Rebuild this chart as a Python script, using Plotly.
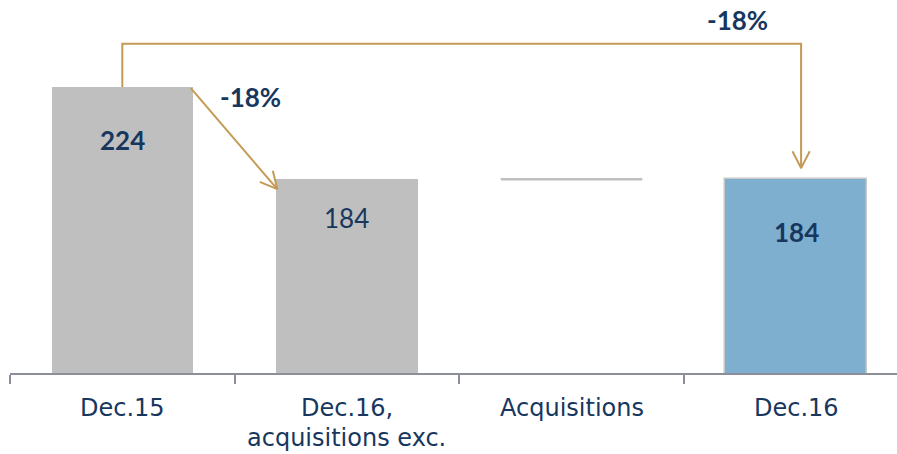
import math
import plotly.graph_objects as go

# ---- data ----
categories = ["Dec.15", "Dec.16,\nacquisitions exc.", "Acquisitions", "Dec.16"]
values = [224, 184, 0, 184]
change_labels = ["-18%", "-18%"]
label_bold = [True, False, None, True]
y_axis_start = 100

# ---- styles ----
NAVY = "#17375e"
GOLD = "#c49a55"
GRAY = "#bfbfbf"
BLUE = "#7fafcf"
AXIS = "#8c8f9a"
FONT = "Lato"
CAT_FONT = "DejaVu Sans"
W = 0.63

FIG_W, FIG_H = 897, 454
M_L, M_R, M_T, M_B = 10, 0, 0, 81
X_RANGE = [-0.5, 3.449]
Y_RANGE = [y_axis_start, 261.7]
PX_X = (FIG_W - M_L - M_R) / (X_RANGE[1] - X_RANGE[0])
PX_Y = (FIG_H - M_T - M_B) / (Y_RANGE[1] - Y_RANGE[0])

xs = list(range(len(categories)))
bar_colors = [GRAY, GRAY, "rgba(0,0,0,0)", BLUE]
line_colors = [GRAY, GRAY, "rgba(0,0,0,0)", "#c8c8c8"]
bases = [0, 0, values[1], 0]

fig = go.Figure()
fig.add_trace(go.Bar(
    x=xs, y=values, base=bases, width=W,
    marker=dict(color=bar_colors, line=dict(color=line_colors, width=[0, 0, 0, 1.5])),
    hoverinfo="skip", showlegend=False,
))

# Acquisitions: zero-height step drawn as a flat line at the running level
level = values[1] + values[2]
fig.add_trace(go.Scatter(
    x=[xs[2] - W / 2, xs[2] + W / 2], y=[level, level], mode="lines",
    line=dict(color=GRAY, width=2.5), hoverinfo="skip", showlegend=False,
))

# value labels
shifts = [-53, -39, None, -53]
for i, v in enumerate(values):
    if label_bold[i] is None:
        continue
    txt = f"<b>{v}</b>" if label_bold[i] else str(v)
    fig.add_annotation(x=xs[i], y=v, text=txt, showarrow=False, yanchor="middle",
                       yshift=shifts[i], font=dict(family=FONT, size=26, color=NAVY))


def open_head(prev, tip, length=19, half_angle=27):
    dx = (tip[0] - prev[0]) * PX_X
    dy = (tip[1] - prev[1]) * PX_Y
    n = math.hypot(dx, dy)
    bx, by = -dx / n, -dy / n
    pts = []
    for s in (1, -1):
        a = math.radians(half_angle * s)
        rx = bx * math.cos(a) - by * math.sin(a)
        ry = bx * math.sin(a) + by * math.cos(a)
        pts.append((tip[0] + rx * length / PX_X, tip[1] + ry * length / PX_Y))
    return [pts[0][0], tip[0], pts[1][0]], [pts[0][1], tip[1], pts[1][1]]


def add_arrow(px, py):
    fig.add_trace(go.Scatter(x=px, y=py, mode="lines",
                             line=dict(color=GOLD, width=2),
                             hoverinfo="skip", showlegend=False))
    hx, hy = open_head((px[-2], py[-2]), (px[-1], py[-1]))
    fig.add_trace(go.Scatter(x=hx, y=hy, mode="lines",
                             line=dict(color=GOLD, width=2),
                             hoverinfo="skip", showlegend=False))


# arrow 1: Dec.15 -> Dec.16 acquisitions exc.
add_arrow([xs[0] + W / 2 - 0.01, xs[1] - W / 2 + 0.005], [values[0] - 0.5, values[1] - 4.3])
fig.add_annotation(x=0.57, y=219.5, text=f"<b>{change_labels[0]}</b>", showarrow=False,
                   font=dict(family=FONT, size=26, color=NAVY))

# arrow 2: elbow Dec.15 -> Dec.16
top = 242.7
add_arrow([xs[0], xs[0], xs[3] + 0.022, xs[3] + 0.022],
          [values[0], top, top, values[3] + 4.8])
fig.add_annotation(x=2.74, y=253, text=f"<b>{change_labels[1]}</b>", showarrow=False,
                   font=dict(family=FONT, size=26, color=NAVY))

# category labels (one annotation per text line for tight line spacing)
for i, cat in enumerate(categories):
    for j, line in enumerate(cat.split("\n")):
        fig.add_annotation(x=xs[i], y=0, yref="paper", text=line, showarrow=False,
                           yanchor="middle", yshift=-35 - 30 * j, borderpad=0,
                           font=dict(family=CAT_FONT, size=24, color=NAVY))

fig.update_layout(
    width=FIG_W, height=FIG_H,
    margin=dict(l=M_L, r=M_R, t=M_T, b=M_B),
    paper_bgcolor="white", plot_bgcolor="white",
    bargap=0,
    xaxis=dict(
        range=X_RANGE, showgrid=False, zeroline=False,
        showline=True, linecolor=AXIS, linewidth=1.5,
        tickvals=xs, showticklabels=False, ticks="",
        minor=dict(tickvals=[x - 0.5 for x in xs], ticks="outside", ticklen=9,
                   tickcolor=AXIS, tickwidth=1.5, showgrid=False),
    ),
    yaxis=dict(range=Y_RANGE, visible=False),
)

fig.write_html("out.html", config={"displayModeBar": False},
               post_script="document.body.style.margin='0';")
